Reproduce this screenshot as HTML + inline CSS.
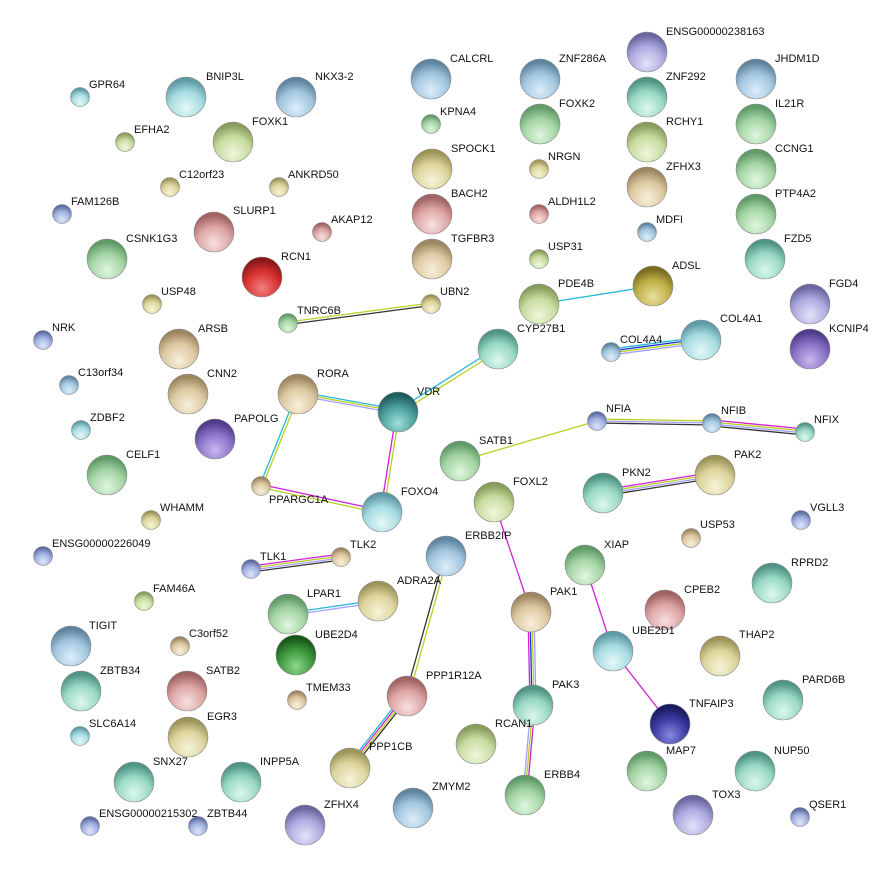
<!DOCTYPE html>
<html><head><meta charset="utf-8"><style>
html,body{margin:0;padding:0;background:#fff}
svg{display:block}
text{font-family:"Liberation Sans",sans-serif;font-size:11px;fill:#111}
</style></head><body>
<svg width="880" height="871" viewBox="0 0 880 871" xmlns="http://www.w3.org/2000/svg">
<defs>
<radialGradient id="hl" cx="50%" cy="50%" r="50%"><stop offset="0" stop-color="#fff" stop-opacity=".95"/><stop offset="1" stop-color="#fff" stop-opacity="0"/></radialGradient>
<radialGradient id="cy" cx="50%" cy="78%" r="70%"><stop offset="0" stop-color="#e4f8f8"/><stop offset=".6" stop-color="#a6dbe0"/><stop offset="1" stop-color="#5f9aa5"/></radialGradient>
<radialGradient id="lb" cx="50%" cy="78%" r="70%"><stop offset="0" stop-color="#dceefa"/><stop offset=".6" stop-color="#a2c6de"/><stop offset="1" stop-color="#5f84a0"/></radialGradient>
<radialGradient id="pu" cx="50%" cy="78%" r="70%"><stop offset="0" stop-color="#e4e2fa"/><stop offset=".6" stop-color="#aeaae0"/><stop offset="1" stop-color="#6a66a0"/></radialGradient>
<radialGradient id="pd" cx="50%" cy="78%" r="70%"><stop offset="0" stop-color="#c8b8f0"/><stop offset=".6" stop-color="#8a72c8"/><stop offset="1" stop-color="#4f3c88"/></radialGradient>
<radialGradient id="gr" cx="50%" cy="78%" r="70%"><stop offset="0" stop-color="#e0f7e0"/><stop offset=".6" stop-color="#a4d4a4"/><stop offset="1" stop-color="#5f9a68"/></radialGradient>
<radialGradient id="yg" cx="50%" cy="78%" r="70%"><stop offset="0" stop-color="#eef8dc"/><stop offset=".6" stop-color="#c8dca0"/><stop offset="1" stop-color="#889c5c"/></radialGradient>
<radialGradient id="ta" cx="50%" cy="78%" r="70%"><stop offset="0" stop-color="#f8f0dc"/><stop offset=".6" stop-color="#dcc8a0"/><stop offset="1" stop-color="#9c8660"/></radialGradient>
<radialGradient id="ye" cx="50%" cy="78%" r="70%"><stop offset="0" stop-color="#f6f4d8"/><stop offset=".6" stop-color="#dcd49c"/><stop offset="1" stop-color="#9c9458"/></radialGradient>
<radialGradient id="pk" cx="50%" cy="78%" r="70%"><stop offset="0" stop-color="#f8e0e0"/><stop offset=".6" stop-color="#dca4a4"/><stop offset="1" stop-color="#a06262"/></radialGradient>
<radialGradient id="rd" cx="50%" cy="78%" r="70%"><stop offset="0" stop-color="#f08080"/><stop offset=".6" stop-color="#d83030"/><stop offset="1" stop-color="#8a1818"/></radialGradient>
<radialGradient id="tg" cx="50%" cy="78%" r="70%"><stop offset="0" stop-color="#dcf8f0"/><stop offset=".6" stop-color="#98d8c4"/><stop offset="1" stop-color="#4f9484"/></radialGradient>
<radialGradient id="dt" cx="50%" cy="78%" r="70%"><stop offset="0" stop-color="#a0e0dc"/><stop offset=".6" stop-color="#4a9e9c"/><stop offset="1" stop-color="#1f5c5c"/></radialGradient>
<radialGradient id="ol" cx="50%" cy="78%" r="70%"><stop offset="0" stop-color="#e8e0a0"/><stop offset=".6" stop-color="#c0b048"/><stop offset="1" stop-color="#7a6c20"/></radialGradient>
<radialGradient id="nv" cx="50%" cy="78%" r="70%"><stop offset="0" stop-color="#8888e0"/><stop offset=".6" stop-color="#3a3aa0"/><stop offset="1" stop-color="#1a1a60"/></radialGradient>
<radialGradient id="dg" cx="50%" cy="78%" r="70%"><stop offset="0" stop-color="#90d890"/><stop offset=".6" stop-color="#3a963a"/><stop offset="1" stop-color="#1a561a"/></radialGradient>
<radialGradient id="bl" cx="50%" cy="78%" r="70%"><stop offset="0" stop-color="#e0e6fa"/><stop offset=".6" stop-color="#a0b0e0"/><stop offset="1" stop-color="#5c6ca0"/></radialGradient>
</defs>

<g fill="none" stroke-width="1.3">
<!-- TNRC6B-UBN2 -->
<line x1="288" y1="322" x2="431" y2="303" stroke="#b8d020"/>
<line x1="288" y1="324.5" x2="431" y2="305.5" stroke="#333"/>
<!-- PDE4B-ADSL -->
<line x1="539" y1="304" x2="653" y2="286" stroke="#22b8d8"/>
<!-- COL4A4-COL4A1 -->
<line x1="611" y1="349" x2="701" y2="337" stroke="#22b8d8"/>
<line x1="611" y1="351" x2="701" y2="339" stroke="#2030e0"/>
<line x1="611" y1="353" x2="701" y2="341" stroke="#b8d020"/>
<line x1="611" y1="355" x2="701" y2="343" stroke="#a0a0ff"/>
<!-- CYP27B1-VDR -->
<line x1="497" y1="347.5" x2="397" y2="410.5" stroke="#22b8d8"/>
<line x1="499" y1="350.5" x2="399" y2="413.5" stroke="#b8d020"/>
<!-- RORA-VDR -->
<line x1="298" y1="391.5" x2="398" y2="409.5" stroke="#22b8d8"/>
<line x1="298" y1="393.5" x2="398" y2="411.5" stroke="#b8d020"/>
<line x1="298" y1="395.5" x2="398" y2="413.5" stroke="#a0a0ff"/>
<!-- RORA-PPARGC1A -->
<line x1="296.5" y1="394" x2="259.5" y2="486" stroke="#22b8d8"/>
<line x1="299" y1="395" x2="262" y2="487" stroke="#b8d020"/>
<!-- VDR-FOXO4 -->
<line x1="396.5" y1="412" x2="380.5" y2="512" stroke="#d020d0"/>
<line x1="399.5" y1="412" x2="383.5" y2="512" stroke="#b8d020"/>
<!-- PPARGC1A-FOXO4 -->
<line x1="261" y1="484.5" x2="382" y2="510.5" stroke="#d020d0"/>
<line x1="261" y1="487.5" x2="382" y2="513.5" stroke="#b8d020"/>
<!-- NFIA-NFIB -->
<line x1="597" y1="419" x2="712" y2="421" stroke="#b8d020"/>
<line x1="597" y1="421" x2="712" y2="423" stroke="#a0a0ff"/>
<line x1="597" y1="423" x2="712" y2="425" stroke="#333"/>
<!-- NFIB-NFIX -->
<line x1="712" y1="420" x2="805" y2="429" stroke="#d020d0"/>
<line x1="712" y1="422" x2="805" y2="431" stroke="#b8d020"/>
<line x1="712" y1="424" x2="805" y2="433" stroke="#a0a0ff"/>
<line x1="712" y1="426" x2="805" y2="435" stroke="#333"/>
<!-- NFIA-SATB1 -->
<line x1="597" y1="421" x2="460" y2="461" stroke="#b8d020"/>
<!-- PKN2-PAK2 -->
<line x1="603" y1="490" x2="715" y2="472" stroke="#d020d0"/>
<line x1="603" y1="492" x2="715" y2="474" stroke="#b8d020"/>
<line x1="603" y1="494" x2="715" y2="476" stroke="#a0a0ff"/>
<line x1="603" y1="496" x2="715" y2="478" stroke="#333"/>
<!-- TLK1-TLK2 -->
<line x1="251" y1="566" x2="341" y2="554" stroke="#d020d0"/>
<line x1="251" y1="568" x2="341" y2="556" stroke="#b8d020"/>
<line x1="251" y1="570" x2="341" y2="558" stroke="#a0a0ff"/>
<line x1="251" y1="572" x2="341" y2="560" stroke="#333"/>
<!-- LPAR1-ADRA2A -->
<line x1="288" y1="613" x2="378" y2="600" stroke="#22b8d8"/>
<line x1="288" y1="615.5" x2="378" y2="602.5" stroke="#a0a0ff"/>
<!-- ERBB2IP-PPP1R12A -->
<line x1="444.5" y1="556" x2="405.5" y2="696" stroke="#333"/>
<line x1="447.5" y1="557" x2="408.5" y2="697" stroke="#b8d020"/>
<!-- PPP1R12A-PPP1CB -->
<line x1="404" y1="694" x2="347" y2="766" stroke="#22b8d8"/>
<line x1="405.5" y1="695.2" x2="348.5" y2="767.2" stroke="#d020d0"/>
<line x1="407" y1="696.4" x2="350" y2="768.4" stroke="#b8d020"/>
<line x1="408.5" y1="697.6" x2="351.5" y2="769.6" stroke="#333"/>
<!-- FOXL2-PAK1 -->
<line x1="494" y1="502" x2="531" y2="612" stroke="#d020d0"/>
<!-- PAK1-PAK3 -->
<line x1="528" y1="612" x2="530" y2="705" stroke="#d020d0"/>
<line x1="530" y1="612" x2="532" y2="705" stroke="#2030e0"/>
<line x1="532" y1="612" x2="534" y2="705" stroke="#b8d020"/>
<line x1="534" y1="612" x2="536" y2="705" stroke="#a0a0ff"/>
<!-- PAK3-ERBB4 -->
<line x1="531" y1="705" x2="523" y2="795" stroke="#a0a0ff"/>
<line x1="533" y1="705" x2="525" y2="795" stroke="#b8d020"/>
<line x1="535" y1="705" x2="527" y2="795" stroke="#d020d0"/>
<!-- XIAP-UBE2D1-TNFAIP3 -->
<line x1="585" y1="565" x2="613" y2="651" stroke="#d020d0"/>
<line x1="613" y1="651" x2="670" y2="724" stroke="#d020d0"/>
</g>

<g stroke="#888" stroke-width="0.6">
<!-- large nodes -->
<circle cx="186" cy="97" r="20" fill="url(#cy)"/>
<circle cx="296" cy="97" r="20" fill="url(#lb)"/>
<circle cx="431" cy="79" r="20" fill="url(#lb)"/>
<circle cx="540" cy="79" r="20" fill="url(#lb)"/>
<circle cx="647" cy="52" r="20" fill="url(#pu)"/>
<circle cx="756" cy="79" r="20" fill="url(#lb)"/>
<circle cx="647" cy="97" r="20" fill="url(#tg)"/>
<circle cx="233" cy="142" r="20" fill="url(#yg)"/>
<circle cx="540" cy="124" r="20" fill="url(#gr)"/>
<circle cx="756" cy="124" r="20" fill="url(#gr)"/>
<circle cx="647" cy="142" r="20" fill="url(#yg)"/>
<circle cx="432" cy="169" r="20" fill="url(#ye)"/>
<circle cx="756" cy="169" r="20" fill="url(#gr)"/>
<circle cx="647" cy="187" r="20" fill="url(#ta)"/>
<circle cx="432" cy="214" r="20" fill="url(#pk)"/>
<circle cx="756" cy="214" r="20" fill="url(#gr)"/>
<circle cx="214" cy="232" r="20" fill="url(#pk)"/>
<circle cx="107" cy="259" r="20" fill="url(#gr)"/>
<circle cx="432" cy="259" r="20" fill="url(#ta)"/>
<circle cx="765" cy="259" r="20" fill="url(#tg)"/>
<circle cx="262" cy="277" r="20" fill="url(#rd)"/>
<circle cx="653" cy="286" r="20" fill="url(#ol)"/>
<circle cx="539" cy="304" r="20" fill="url(#yg)"/>
<circle cx="810" cy="304" r="20" fill="url(#pu)"/>
<circle cx="701" cy="340" r="20" fill="url(#cy)"/>
<circle cx="810" cy="349" r="20" fill="url(#pd)"/>
<circle cx="179" cy="349" r="20" fill="url(#ta)"/>
<circle cx="498" cy="349" r="20" fill="url(#tg)"/>
<circle cx="188" cy="394" r="20" fill="url(#ta)"/>
<circle cx="298" cy="394" r="20" fill="url(#ta)"/>
<circle cx="398" cy="412" r="20" fill="url(#dt)"/>
<circle cx="215" cy="439" r="20" fill="url(#pd)"/>
<circle cx="460" cy="461" r="20" fill="url(#gr)"/>
<circle cx="107" cy="475" r="20" fill="url(#gr)"/>
<circle cx="603" cy="493" r="20" fill="url(#tg)"/>
<circle cx="715" cy="475" r="20" fill="url(#ye)"/>
<circle cx="494" cy="502" r="20" fill="url(#yg)"/>
<circle cx="382" cy="512" r="20" fill="url(#cy)"/>
<circle cx="446" cy="556" r="20" fill="url(#lb)"/>
<circle cx="585" cy="565" r="20" fill="url(#gr)"/>
<circle cx="378" cy="601" r="20" fill="url(#ye)"/>
<circle cx="288" cy="614" r="20" fill="url(#gr)"/>
<circle cx="531" cy="612" r="20" fill="url(#ta)"/>
<circle cx="665" cy="610" r="20" fill="url(#pk)"/>
<circle cx="772" cy="583" r="20" fill="url(#tg)"/>
<circle cx="71" cy="646" r="20" fill="url(#lb)"/>
<circle cx="296" cy="655" r="20" fill="url(#dg)"/>
<circle cx="613" cy="651" r="20" fill="url(#cy)"/>
<circle cx="720" cy="656" r="20" fill="url(#ye)"/>
<circle cx="81" cy="691" r="20" fill="url(#tg)"/>
<circle cx="187" cy="691" r="20" fill="url(#pk)"/>
<circle cx="407" cy="696" r="20" fill="url(#pk)"/>
<circle cx="533" cy="705" r="20" fill="url(#tg)"/>
<circle cx="783" cy="700" r="20" fill="url(#tg)"/>
<circle cx="670" cy="724" r="20" fill="url(#nv)"/>
<circle cx="188" cy="737" r="20" fill="url(#ye)"/>
<circle cx="476" cy="744" r="20" fill="url(#yg)"/>
<circle cx="350" cy="768" r="20" fill="url(#ye)"/>
<circle cx="134" cy="782" r="20" fill="url(#tg)"/>
<circle cx="241" cy="782" r="20" fill="url(#tg)"/>
<circle cx="647" cy="771" r="20" fill="url(#gr)"/>
<circle cx="755" cy="771" r="20" fill="url(#tg)"/>
<circle cx="525" cy="795" r="20" fill="url(#gr)"/>
<circle cx="413" cy="808" r="20" fill="url(#lb)"/>
<circle cx="305" cy="825" r="20" fill="url(#pu)"/>
<circle cx="693" cy="815" r="20" fill="url(#pu)"/>
<!-- small nodes -->
<circle cx="80" cy="97" r="9.5" fill="url(#cy)"/>
<circle cx="125" cy="142" r="9.5" fill="url(#yg)"/>
<circle cx="431" cy="124" r="9.5" fill="url(#gr)"/>
<circle cx="170" cy="187" r="9.5" fill="url(#ye)"/>
<circle cx="279" cy="187" r="9.5" fill="url(#ye)"/>
<circle cx="539" cy="169" r="9.5" fill="url(#ye)"/>
<circle cx="539" cy="214" r="9.5" fill="url(#pk)"/>
<circle cx="62" cy="214" r="9.5" fill="url(#bl)"/>
<circle cx="322" cy="232" r="9.5" fill="url(#pk)"/>
<circle cx="647" cy="232" r="9.5" fill="url(#lb)"/>
<circle cx="539" cy="259" r="9.5" fill="url(#yg)"/>
<circle cx="152" cy="304" r="9.5" fill="url(#ye)"/>
<circle cx="431" cy="304" r="9.5" fill="url(#ye)"/>
<circle cx="288" cy="323" r="9.5" fill="url(#gr)"/>
<circle cx="43" cy="340" r="9.5" fill="url(#bl)"/>
<circle cx="611" cy="352" r="9.5" fill="url(#lb)"/>
<circle cx="69" cy="385" r="9.5" fill="url(#lb)"/>
<circle cx="81" cy="430" r="9.5" fill="url(#cy)"/>
<circle cx="597" cy="421" r="9.5" fill="url(#bl)"/>
<circle cx="712" cy="423" r="9.5" fill="url(#lb)"/>
<circle cx="805" cy="432" r="9.5" fill="url(#tg)"/>
<circle cx="261" cy="486" r="9.5" fill="url(#ta)"/>
<circle cx="151" cy="520" r="9.5" fill="url(#ye)"/>
<circle cx="801" cy="520" r="9.5" fill="url(#bl)"/>
<circle cx="43" cy="556" r="9.5" fill="url(#bl)"/>
<circle cx="691" cy="538" r="9.5" fill="url(#ta)"/>
<circle cx="251" cy="569" r="9.5" fill="url(#bl)"/>
<circle cx="341" cy="557" r="9.5" fill="url(#ta)"/>
<circle cx="144" cy="601" r="9.5" fill="url(#yg)"/>
<circle cx="180" cy="646" r="9.5" fill="url(#ta)"/>
<circle cx="297" cy="700" r="9.5" fill="url(#ta)"/>
<circle cx="80" cy="736" r="9.5" fill="url(#cy)"/>
<circle cx="90" cy="826" r="9.5" fill="url(#bl)"/>
<circle cx="198" cy="826" r="9.5" fill="url(#bl)"/>
<circle cx="800" cy="817" r="9.5" fill="url(#bl)"/>
</g>

<text x="89" y="88">GPR64</text>
<text x="206" y="80">BNIP3L</text>
<text x="315" y="80">NKX3-2</text>
<text x="450" y="62">CALCRL</text>
<text x="559" y="62">ZNF286A</text>
<text x="666" y="35">ENSG00000238163</text>
<text x="775" y="62">JHDM1D</text>
<text x="666" y="80">ZNF292</text>
<text x="134" y="133">EFHA2</text>
<text x="252" y="125">FOXK1</text>
<text x="440" y="115">KPNA4</text>
<text x="559" y="107">FOXK2</text>
<text x="775" y="107">IL21R</text>
<text x="666" y="125">RCHY1</text>
<text x="451" y="152">SPOCK1</text>
<text x="548" y="160">NRGN</text>
<text x="775" y="152">CCNG1</text>
<text x="179" y="178">C12orf23</text>
<text x="288" y="178">ANKRD50</text>
<text x="666" y="170">ZFHX3</text>
<text x="451" y="197">BACH2</text>
<text x="548" y="205">ALDH1L2</text>
<text x="775" y="197">PTP4A2</text>
<text x="71" y="205">FAM126B</text>
<text x="233" y="214">SLURP1</text>
<text x="331" y="223">AKAP12</text>
<text x="656" y="223">MDFI</text>
<text x="126" y="242">CSNK1G3</text>
<text x="451" y="242">TGFBR3</text>
<text x="548" y="250">USP31</text>
<text x="784" y="242">FZD5</text>
<text x="281" y="260">RCN1</text>
<text x="672" y="269">ADSL</text>
<text x="161" y="295">USP48</text>
<text x="440" y="295">UBN2</text>
<text x="558" y="287">PDE4B</text>
<text x="829" y="287">FGD4</text>
<text x="297" y="314">TNRC6B</text>
<text x="720" y="322">COL4A1</text>
<text x="52" y="331">NRK</text>
<text x="620" y="343">COL4A4</text>
<text x="829" y="332">KCNIP4</text>
<text x="198" y="332">ARSB</text>
<text x="517" y="332">CYP27B1</text>
<text x="78" y="376">C13orf34</text>
<text x="207" y="377">CNN2</text>
<text x="317" y="377">RORA</text>
<text x="417" y="395">VDR</text>
<text x="606" y="412">NFIA</text>
<text x="721" y="414">NFIB</text>
<text x="814" y="423">NFIX</text>
<text x="90" y="421">ZDBF2</text>
<text x="234" y="422">PAPOLG</text>
<text x="479" y="444">SATB1</text>
<text x="126" y="458">CELF1</text>
<text x="734" y="458">PAK2</text>
<text x="622" y="476">PKN2</text>
<text x="513" y="485">FOXL2</text>
<text x="401" y="495">FOXO4</text>
<text x="269" y="503">PPARGC1A</text>
<text x="160" y="511">WHAMM</text>
<text x="810" y="511">VGLL3</text>
<text x="700" y="528">USP53</text>
<text x="52" y="547">ENSG00000226049</text>
<text x="465" y="539">ERBB2IP</text>
<text x="260" y="560">TLK1</text>
<text x="350" y="548">TLK2</text>
<text x="604" y="548">XIAP</text>
<text x="791" y="566">RPRD2</text>
<text x="153" y="592">FAM46A</text>
<text x="397" y="584">ADRA2A</text>
<text x="307" y="597">LPAR1</text>
<text x="550" y="595">PAK1</text>
<text x="684" y="593">CPEB2</text>
<text x="89" y="629">TIGIT</text>
<text x="189" y="637">C3orf52</text>
<text x="315" y="638">UBE2D4</text>
<text x="632" y="634">UBE2D1</text>
<text x="739" y="638">THAP2</text>
<text x="100" y="674">ZBTB34</text>
<text x="206" y="674">SATB2</text>
<text x="426" y="679">PPP1R12A</text>
<text x="306" y="691">TMEM33</text>
<text x="552" y="688">PAK3</text>
<text x="802" y="683">PARD6B</text>
<text x="689" y="707">TNFAIP3</text>
<text x="207" y="720">EGR3</text>
<text x="89" y="727">SLC6A14</text>
<text x="495" y="727">RCAN1</text>
<text x="369" y="750">PPP1CB</text>
<text x="153" y="765">SNX27</text>
<text x="260" y="765">INPP5A</text>
<text x="666" y="754">MAP7</text>
<text x="774" y="754">NUP50</text>
<text x="544" y="778">ERBB4</text>
<text x="432" y="790">ZMYM2</text>
<text x="324" y="808">ZFHX4</text>
<text x="712" y="798">TOX3</text>
<text x="99" y="817">ENSG00000215302</text>
<text x="207" y="817">ZBTB44</text>
<text x="809" y="808">QSER1</text>
</svg>
</body></html>
